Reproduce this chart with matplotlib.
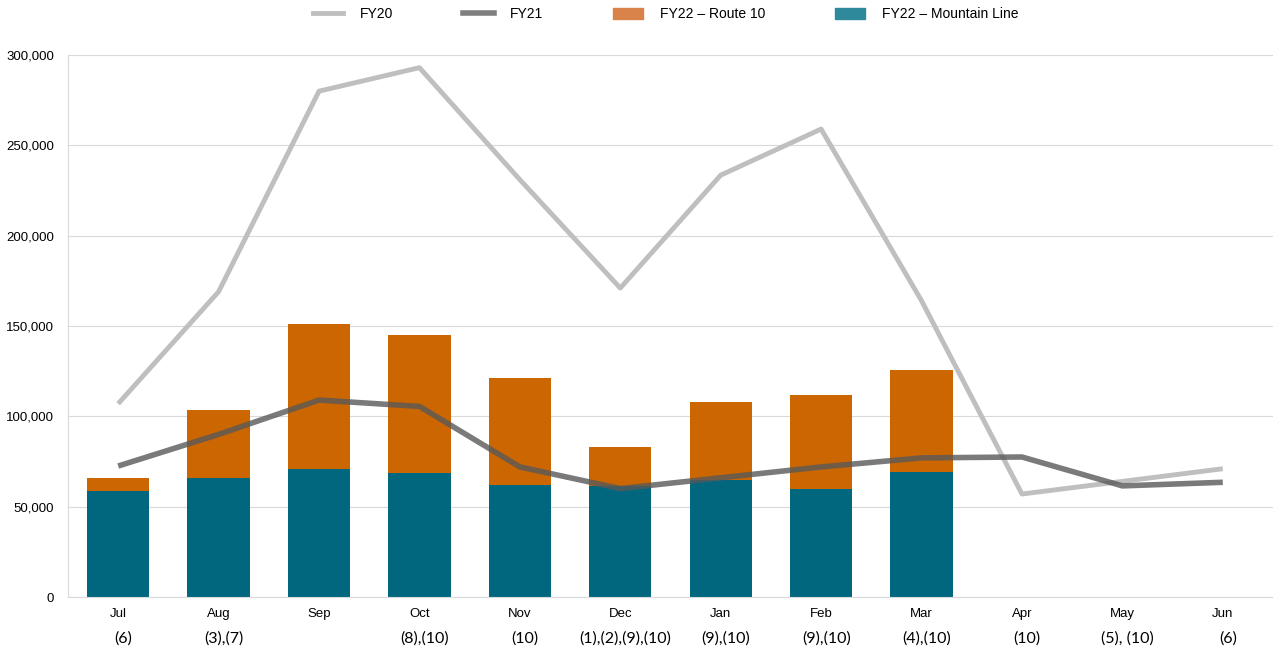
import matplotlib.pyplot as plt
import matplotlib.transforms as mtransforms
from matplotlib.lines import Line2D
from matplotlib.patches import Patch

months = ['Jul', 'Aug', 'Sep', 'Oct', 'Nov', 'Dec', 'Jan', 'Feb', 'Mar', 'Apr', 'May', 'Jun']
notes = ['(6)', '(3),(7)', '', '(8),(10)', '(10)', '(1),(2),(9),(10)', '(9),(10)',
         '(9),(10)', '(4),(10)', '(10)', '(5), (10)', '(6)']
fy20 = [107000, 169000, 280000, 293000, 231000, 171000, 233500, 259000, 164000, 57000, 64000, 71000]
fy21 = [72500, 90000, 109000, 105500, 72000, 60000, 66000, 72000, 77000, 77500, 61500, 63500]
mountain_line = [58700, 66000, 71000, 68600, 62000, 61400, 64700, 59800, 69200]
route_10 = [7300, 37500, 80000, 76400, 59000, 21600, 43300, 52200, 56400]

plt.rcParams['font.family'] = ['Liberation Sans', 'DejaVu Sans']

fig = plt.figure(figsize=(12.73, 6.48), dpi=100)
ax = fig.add_axes([0.0534, 0.0787, 0.9466, 0.8364])

x = list(range(len(months)))
xb = x[:len(mountain_line)]
ax.bar(xb, mountain_line, width=0.62, color='#00677F', zorder=2)
ax.bar(xb, route_10, width=0.62, bottom=mountain_line, color='#CC6600', zorder=2)
ax.plot(x, fy20, color='#BFBFBF', lw=3.5, zorder=3, solid_capstyle='butt')
ax.plot(x, fy21, color='#595959', lw=4, alpha=0.8, zorder=4, solid_capstyle='butt')

ax.set_xlim(-0.5, 11.5)
ax.set_ylim(0, 300000)
ax.set_yticks(range(0, 300001, 50000))
ax.set_yticklabels([f'{v:,}' for v in range(0, 300001, 50000)], fontsize=9.5)
ax.set_xticks(x)
ax.set_xticklabels(months, fontsize=9.5)
ax.tick_params(length=0, pad=8)
ax.tick_params(axis='y', pad=10)
ax.grid(axis='y', color='#D9D9D9', lw=0.8, zorder=0)
for s in ['top', 'right']:
    ax.spines[s].set_visible(False)
ax.spines['left'].set_color('#D9D9D9')
ax.spines['bottom'].set_color('#D9D9D9')

trans = mtransforms.blended_transform_factory(ax.transData, ax.transAxes)
for i, n in enumerate(notes):
    ax.text(i + 0.05, -0.076, n, transform=trans, ha='center', va='center', fontsize=11.5,
            family=['Lato', 'DejaVu Sans'])

handles = [Line2D([], [], color='#BFBFBF', lw=3.5),
           Line2D([], [], color='#7F7F7F', lw=4),
           Patch(color='#D9824A'),
           Patch(color='#2E8A9A')]
labels = ['FY20', 'FY21', 'FY22 \u2013 Route 10', 'FY22 \u2013 Mountain Line']
fig.legend(handles, labels, loc='upper center', bbox_to_anchor=(0.523, 1.008), ncol=4,
           frameon=False, fontsize=10, columnspacing=5, handlelength=2.2,
           handletextpad=1.2, handleheight=0.8)

fig.savefig('out.png', dpi=100)
